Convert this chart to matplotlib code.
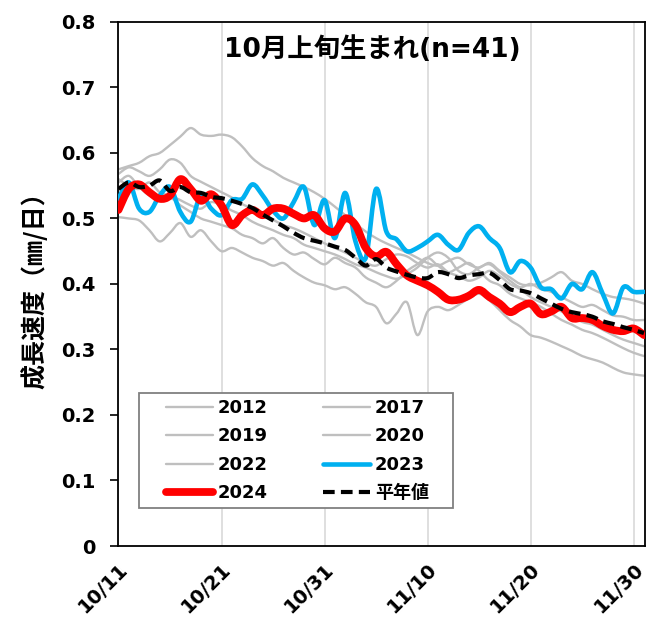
import matplotlib
matplotlib.use('Agg')
from matplotlib import pyplot as plt
from matplotlib.path import Path
from matplotlib.patches import PathPatch, Rectangle
from matplotlib.lines import Line2D
from matplotlib.transforms import ScaledTranslation

plt.rcParams['font.family'] = ['DejaVu Sans', 'Noto Sans CJK JP']
plt.rcParams['font.weight'] = 'bold'

# --- DATA (growth rate mm/day, daily from 10/11 to 12/1) ---
tick_days = [0, 10, 20, 30, 40, 50]
tick_labels = ['10/11', '10/21', '10/31', '11/10', '11/20', '11/30']

y2012 = [0.575, 0.580, 0.585, 0.595, 0.600, 0.612, 0.625, 0.638, 0.628, 0.626, 0.628,
         0.624, 0.610, 0.592, 0.580, 0.572, 0.562, 0.555, 0.548, 0.540, 0.530,
         0.518, 0.505, 0.492, 0.480, 0.470, 0.462, 0.455, 0.448, 0.440, 0.432,
         0.428, 0.435, 0.440, 0.430, 0.425, 0.432, 0.420, 0.410, 0.400, 0.398,
         0.402, 0.410, 0.418, 0.405, 0.400, 0.392, 0.385, 0.380, 0.378, 0.375, 0.370]
y2017 = [0.568, 0.578, 0.572, 0.565, 0.575, 0.590, 0.585, 0.565, 0.556, 0.548, 0.540,
         0.532, 0.522, 0.515, 0.505, 0.498, 0.490, 0.485, 0.478, 0.470, 0.462,
         0.455, 0.448, 0.440, 0.432, 0.428, 0.438, 0.445, 0.442, 0.432, 0.425,
         0.430, 0.418, 0.412, 0.405, 0.410, 0.420, 0.412, 0.400, 0.392, 0.380,
         0.372, 0.365, 0.358, 0.350, 0.342, 0.338, 0.330, 0.322, 0.315, 0.310, 0.305]
y2019 = [0.555, 0.565, 0.548, 0.535, 0.528, 0.532, 0.520, 0.510, 0.500, 0.495, 0.490,
         0.485, 0.475, 0.470, 0.462, 0.470, 0.455, 0.445, 0.448, 0.438, 0.430,
         0.440, 0.432, 0.425, 0.410, 0.402, 0.395, 0.405, 0.420, 0.430, 0.440,
         0.428, 0.418, 0.425, 0.432, 0.420, 0.405, 0.398, 0.385, 0.378, 0.372,
         0.365, 0.355, 0.345, 0.338, 0.330, 0.325, 0.318, 0.310, 0.302, 0.295, 0.290]
y2020 = [0.502, 0.500, 0.497, 0.482, 0.465, 0.478, 0.493, 0.472, 0.482, 0.465, 0.450,
         0.455, 0.448, 0.440, 0.435, 0.428, 0.432, 0.420, 0.410, 0.402, 0.398,
         0.392, 0.395, 0.385, 0.372, 0.365, 0.340, 0.355, 0.372, 0.322, 0.358,
         0.365, 0.360, 0.368, 0.378, 0.385, 0.375, 0.360, 0.345, 0.335, 0.322,
         0.318, 0.312, 0.305, 0.298, 0.290, 0.285, 0.280, 0.272, 0.265, 0.262, 0.260]
y2022 = [0.560, 0.550, 0.545, 0.555, 0.540, 0.535, 0.528, 0.520, 0.515, 0.525, 0.520,
         0.512, 0.505, 0.495, 0.488, 0.482, 0.475, 0.470, 0.460, 0.455, 0.450,
         0.445, 0.438, 0.430, 0.425, 0.418, 0.412, 0.408, 0.415, 0.425, 0.440,
         0.448, 0.440, 0.420, 0.415, 0.425, 0.430, 0.418, 0.405, 0.395, 0.400,
         0.392, 0.388, 0.380, 0.372, 0.365, 0.368, 0.360, 0.352, 0.350, 0.345, 0.345]
y2023 = [0.530, 0.555, 0.515, 0.510, 0.535, 0.548, 0.510, 0.495, 0.535, 0.515, 0.505,
         0.528, 0.530, 0.552, 0.535, 0.512, 0.500, 0.525, 0.548, 0.490, 0.528,
         0.470, 0.539, 0.465, 0.440, 0.545, 0.480, 0.468, 0.450, 0.455, 0.465,
         0.475, 0.460, 0.452, 0.478, 0.488, 0.470, 0.455, 0.418, 0.435, 0.425,
         0.395, 0.392, 0.378, 0.400, 0.392, 0.418, 0.385, 0.355, 0.395, 0.388, 0.388]
y2024 = [0.513, 0.545, 0.552, 0.540, 0.530, 0.535, 0.560, 0.545, 0.527, 0.537, 0.520,
         0.490, 0.505, 0.513, 0.505, 0.515, 0.515, 0.507, 0.500, 0.505, 0.485,
         0.480, 0.500, 0.490, 0.455, 0.442, 0.449, 0.430, 0.413, 0.405, 0.398,
         0.388, 0.376, 0.376, 0.382, 0.391, 0.380, 0.370, 0.357, 0.365, 0.370,
         0.354, 0.358, 0.365, 0.348, 0.348, 0.345, 0.336, 0.330, 0.328, 0.332, 0.322]
normal = [0.545, 0.555, 0.548, 0.550, 0.558, 0.542, 0.548, 0.540, 0.539, 0.533, 0.531,
          0.527, 0.522, 0.516, 0.506, 0.497, 0.488, 0.478, 0.470, 0.466, 0.462,
          0.457, 0.452, 0.440, 0.428, 0.438, 0.425, 0.419, 0.414, 0.410, 0.409,
          0.418, 0.415, 0.409, 0.413, 0.415, 0.417, 0.406, 0.392, 0.390, 0.386,
          0.378, 0.370, 0.362, 0.357, 0.354, 0.350, 0.343, 0.339, 0.334, 0.330, 0.325]

days = list(range(len(y2024)))

GRAY = '#BFBFBF'
BLUE = '#00B0F0'
RED = '#FF0000'


def smooth_path(xs, ys):
    # Excel-like smoothed line: Catmull-Rom segments as cubic Beziers
    pts = list(zip(xs, ys))
    n = len(pts)
    verts = [pts[0]]
    codes = [Path.MOVETO]
    for i in range(n - 1):
        p0 = pts[max(i - 1, 0)]
        p1 = pts[i]
        p2 = pts[i + 1]
        p3 = pts[min(i + 2, n - 1)]
        c1 = (p1[0] + (p2[0] - p0[0]) / 6, p1[1] + (p2[1] - p0[1]) / 6)
        c2 = (p2[0] - (p3[0] - p1[0]) / 6, p2[1] - (p3[1] - p1[1]) / 6)
        verts += [c1, c2, p2]
        codes += [Path.CURVE4] * 3
    return Path(verts, codes)


fig = plt.figure(figsize=(6.54, 6.18), dpi=100)
ax = fig.add_axes([0.1804, 0.1165, 0.8058, 0.848])
ax.set_xlim(-0.05, 51.1)
ax.set_ylim(0, 0.8)

styles = {
    'gray': dict(color=GRAY, lw=1.7, ls='-', z=2),
    '2023': dict(color=BLUE, lw=3.3, ls='-', z=3),
    '2024': dict(color=RED, lw=5.6, ls='-', z=4),
    '平年値': dict(color='black', lw=3.0, ls=(0, (2.8, 1.5)), z=5),
}

series = [('2012', y2012, 'gray'), ('2017', y2017, 'gray'), ('2019', y2019, 'gray'),
          ('2020', y2020, 'gray'), ('2022', y2022, 'gray'), ('2023', y2023, '2023'),
          ('2024', y2024, '2024'), ('平年値', normal, '平年値')]

handles = {}
for name, ys, key in series:
    st = styles[key]
    patch = PathPatch(smooth_path(days, ys), fill=False, edgecolor=st['color'], lw=st['lw'],
                      linestyle=st['ls'], capstyle='round' if key != '平年値' else 'butt',
                      joinstyle='round', zorder=st['z'])
    ax.add_patch(patch)
    handles[name] = Line2D([], [], color=st['color'], lw=st['lw'], linestyle=st['ls'],
                           solid_capstyle='round')

ax.set_yticks([0, 0.1, 0.2, 0.3, 0.4, 0.5, 0.6, 0.7, 0.8])
ax.set_yticklabels(['0', '0.1', '0.2', '0.3', '0.4', '0.5', '0.6', '0.7', '0.8'],
                   fontsize=14, fontweight='bold')
ax.set_xticks(tick_days)
ax.set_xticklabels(tick_labels, rotation=45, ha='right', rotation_mode='anchor',
                   fontsize=14, fontweight='bold')
offset = ScaledTranslation(-14 / 72, -4 / 72, fig.dpi_scale_trans)
for lab in ax.get_xticklabels():
    lab.set_transform(lab.get_transform() + offset)
ax.tick_params(axis='y', direction='out', length=6, width=1.2, pad=10)
ax.tick_params(axis='x', length=0, pad=10)
ax.grid(axis='x', color='#D9D9D9', lw=1.2)
ax.set_axisbelow(True)
for sp in ax.spines.values():
    sp.set_linewidth(1.3)
    sp.set_color('black')

ax.set_ylabel('成長速度（㎜/日）', fontsize=18, fontweight='bold', labelpad=10,
              family=['Noto Sans CJK JP', 'DejaVu Sans'])

ax.text(0.482, 0.9466, '10月上旬生まれ(n=41)', transform=ax.transAxes, ha='center',
        va='center', fontsize=19, fontweight='bold')

# legend frame drawn separately so the inner padding can match
ax.add_patch(Rectangle((0.0398, 0.0725), 0.5959, 0.2195, transform=ax.transAxes,
                       facecolor='white', edgecolor='#808080', lw=1.3, zorder=6))
order = ['2012', '2019', '2022', '2024', '2017', '2020', '2023', '平年値']
leg = ax.legend([handles[k] for k in order], order, ncol=2, loc='upper left',
                bbox_to_anchor=(0.091, 0.2805), frameon=False, handlelength=2.6,
                handletextpad=0.25, columnspacing=3.1, labelspacing=0.58,
                borderpad=0, borderaxespad=0, prop={'size': 13, 'weight': 'bold'})
leg.set_zorder(7)

plt.savefig('out.png', dpi=100)
